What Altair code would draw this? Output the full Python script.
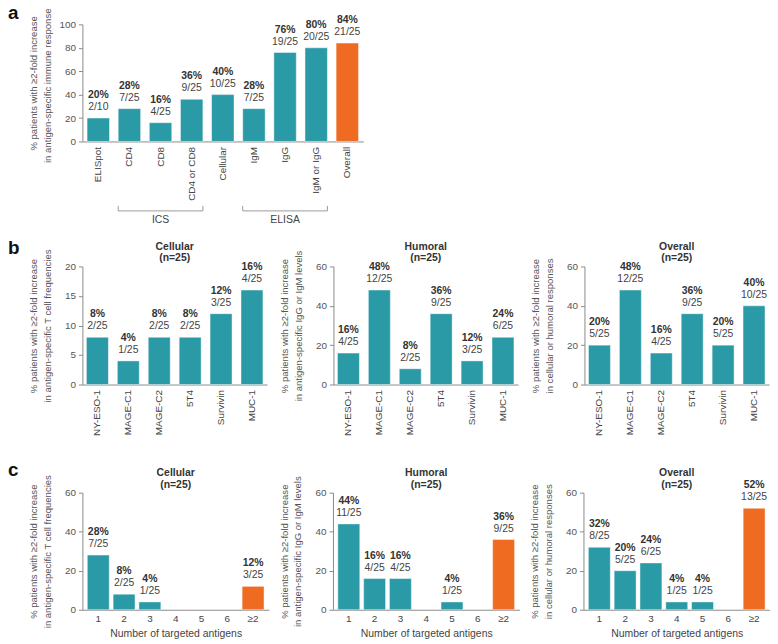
import altair as alt
import pandas as pd

FONT = "Liberation Sans"
TEAL = "#2a9aa6"
ORANGE = "#ef6b22"
TXT = "#333333"
LAB = "#444444"
GREY = "#555555"
AXC = "#8a8a8a"

# ---- panel a ----
a_cats = ["ELISpot", "CD4", "CD8", "CD4 or CD8", "Cellular", "IgM", "IgG", "IgM or IgG", "Overall"]
a_vals = [20, 28, 16, 36, 40, 28, 76, 80, 84]
a_fracs = ["2/10", "7/25", "4/25", "9/25", "10/25", "7/25", "19/25", "20/25", "21/25"]

bracket_start = ["CD4", "IgM"]
bracket_end = ["CD4 or CD8", "IgM or IgG"]
bracket_mid = ["CD8", "IgG"]
bracket_label = ["ICS", "ELISA"]

# ---- panel b ----
antigens = ["NY-ESO-1", "MAGE-C1", "MAGE-C2", "5T4", "Survivin", "MUC-1"]
b_cell_vals = [8, 4, 8, 8, 12, 16]
b_cell_fracs = ["2/25", "1/25", "2/25", "2/25", "3/25", "4/25"]
b_hum_vals = [16, 48, 8, 36, 12, 24]
b_hum_fracs = ["4/25", "12/25", "2/25", "9/25", "3/25", "6/25"]
b_all_vals = [20, 48, 16, 36, 20, 40]
b_all_fracs = ["5/25", "12/25", "4/25", "9/25", "5/25", "10/25"]

# ---- panel c ----
n_targets = ["1", "2", "3", "4", "5", "6", "≥2"]
c_cell_vals = [28, 8, 4, 0, 0, 0, 12]
c_cell_fracs = ["7/25", "2/25", "1/25", "", "", "", "3/25"]
c_hum_vals = [44, 16, 16, 0, 4, 0, 36]
c_hum_fracs = ["11/25", "4/25", "4/25", "", "1/25", "", "9/25"]
c_all_vals = [32, 20, 24, 4, 4, 0, 52]
c_all_fracs = ["8/25", "5/25", "6/25", "1/25", "1/25", "", "13/25"]

YT1 = "% patients with \u22652-fold increase"
yt_a = [YT1, "in antigen-specific immune responses"]
yt_cell = [YT1, "in antigen-specific T cell frequencies"]
yt_hum = [YT1, "in antigen-specific IgG or IgM levels"]
yt_all = [YT1, "in cellular or humoral responses"]

t_cell = "Cellular\n(n=25)"
t_hum = "Humoral\n(n=25)"
t_all = "Overall\n(n=25)"


def make_df(cats, vals, fracs, hl_last):
    rows = []
    for i, (c, v, f) in enumerate(zip(cats, vals, fracs)):
        rows.append({
            "cat": c, "v": v, "frac": f,
            "pct": f"{v}%" if v > 0 else "",
            "hl": "hl" if (hl_last and i == len(cats) - 1) else "base",
        })
    return pd.DataFrame(rows)


def xenc(field, cats, pi, po, angle, xtitle, lpad, band=None):
    axis = alt.Axis(labelAngle=angle, ticks=False, tickSize=0, labelPadding=lpad,
                    domainColor=AXC, labelColor=LAB, labelFontSize=10, labelFont=FONT,
                    titleFont=FONT, titleFontSize=10.5, titleFontWeight="normal",
                    titleColor=LAB, titlePadding=5)
    kw = dict(scale=alt.Scale(domain=cats, paddingInner=pi, paddingOuter=po),
              axis=axis, title=xtitle)
    if band is not None:
        kw["bandPosition"] = band
    return alt.X(f"{field}:N", **kw)


def yenc(ymax, step, ytitle):
    return alt.Y("v:Q", scale=alt.Scale(domain=[0, ymax], nice=False),
                 axis=alt.Axis(values=list(range(0, ymax + 1, step)), title=ytitle,
                               titleX=-44, titleFont=FONT, titleFontSize=9.6,
                               titleFontWeight="normal", titleColor=GREY,
                               titleLineHeight=13.5, grid=False, tickSize=4,
                               tickColor=AXC, domainColor=AXC, labelColor=GREY,
                               labelFontSize=10, labelFont=FONT, labelPadding=3))


def panel(cats, vals, fracs, ymax, step, width, height, ytitle, pi, po, angle,
          lpad, hl_last, xtitle=None, title=None, letter=None, letter_y=0,
          extra=None):
    df = make_df(cats, vals, fracs, hl_last)
    X = xenc("cat", cats, pi, po, angle, xtitle, lpad)
    Y = yenc(ymax, step, ytitle)
    bars = alt.Chart(df).transform_filter("datum.v > 0").mark_bar(
        stroke="white", strokeWidth=0.8, strokeOpacity=0.55).encode(
        x=X, y=Y,
        color=alt.Color("hl:N", scale=alt.Scale(domain=["base", "hl"], range=[TEAL, ORANGE]),
                        legend=None))
    pct = alt.Chart(df).transform_filter("datum.v > 0").mark_text(
        font=FONT, fontSize=10.5, fontWeight="bold", color=TXT, baseline="middle", dy=-23
    ).encode(x=X, y=Y, text="pct:N")
    frac = alt.Chart(df).transform_filter("datum.v > 0").mark_text(
        font=FONT, fontSize=10.5, color=LAB, baseline="middle", dy=-11
    ).encode(x=X, y=Y, text="frac:N")
    layers = [bars, pct, frac]
    if title:
        tt = alt.Chart(pd.DataFrame({"t": [title]})).mark_text(
            font=FONT, fontSize=10.5, fontWeight="bold", color=TXT, baseline="middle",
            align="center", lineBreak="\n", lineHeight=11.5
        ).encode(x=alt.value(width / 2), y=alt.value(-19.5), text="t:N")
        layers.append(tt)
    if letter:
        lt = alt.Chart(pd.DataFrame({"t": [letter]})).mark_text(
            font=FONT, fontSize=19, fontWeight="bold", align="left",
            baseline="alphabetic", color="#111111"
        ).encode(x=alt.value(-75), y=alt.value(letter_y), text="t:N")
        layers.append(lt)
    if extra:
        layers.extend(extra)
    return alt.layer(*layers).properties(width=width, height=height)


# brackets for panel a
br_df = pd.DataFrame({"cat": bracket_start, "cat_end": bracket_end,
                      "mid": bracket_mid, "label": bracket_label})
A_PI, A_PO = 0.28, 0.15
BR_Y = 188
hline = alt.Chart(br_df).mark_rule(color="#9a9a9a", strokeWidth=1).encode(
    x=xenc("cat", a_cats, A_PI, A_PO, -90, None, 5, band=0),
    x2=alt.X2("cat_end:N", bandPosition=1),
    y=alt.value(BR_Y))
ltick = alt.Chart(br_df).mark_rule(color="#9a9a9a", strokeWidth=1).encode(
    x=xenc("cat", a_cats, A_PI, A_PO, -90, None, 5, band=0),
    y=alt.value(BR_Y - 5), y2=alt.value(BR_Y))
rtick = alt.Chart(br_df).mark_rule(color="#9a9a9a", strokeWidth=1).encode(
    x=xenc("cat_end", a_cats, A_PI, A_PO, -90, None, 5, band=1),
    y=alt.value(BR_Y - 5), y2=alt.value(BR_Y))
brtext = alt.Chart(br_df).mark_text(font=FONT, fontSize=10.5, color=LAB, baseline="middle").encode(
    x=xenc("mid", a_cats, A_PI, A_PO, -90, None, 5, band=0.5),
    y=alt.value(BR_Y + 9), text="label:N")

pa = panel(a_cats, a_vals, a_fracs, 100, 20, 283, 118, yt_a, A_PI, A_PO, -90, 5, True,
           letter="a", letter_y=-5, extra=[hline, ltick, rtick, brtext])

BW, BH = 186, 119
b1 = panel(antigens, b_cell_vals, b_cell_fracs, 20, 5, BW, BH, yt_cell, 0.29, 0.13, -90, 5,
           False, title=t_cell, letter="b", letter_y=-13)
b2 = panel(antigens, b_hum_vals, b_hum_fracs, 60, 20, BW, BH, yt_hum, 0.29, 0.13, -90, 5,
           False, title=t_hum)
b3 = panel(antigens, b_all_vals, b_all_fracs, 60, 20, BW, BH, yt_all, 0.29, 0.13, -90, 5,
           False, title=t_all)

CW, CH = 188, 118
XT = "Number of targeted antigens"
c1 = panel(n_targets, c_cell_vals, c_cell_fracs, 60, 20, CW, CH, yt_cell, 0.15, 0.19, 0, 4,
           True, xtitle=XT, title=t_cell, letter="c", letter_y=-17)
c2 = panel(n_targets, c_hum_vals, c_hum_fracs, 60, 20, CW, CH, yt_hum, 0.15, 0.19, 0, 4,
           True, xtitle=XT, title=t_hum)
c3 = panel(n_targets, c_all_vals, c_all_fracs, 60, 20, CW, CH, yt_all, 0.15, 0.19, 0, 4,
           True, xtitle=XT, title=t_all)

row_b = alt.hconcat(b1, b2, b3, spacing=67, bounds="flush")
row_c = alt.hconcat(c1, c2, c3, spacing=64.5, bounds="flush")
bottom = alt.vconcat(row_b, row_c, spacing=25)

chart = alt.vconcat(pa, bottom, spacing=13).properties(
    padding={"left": 0, "right": 0, "top": -8, "bottom": 0}
).configure_view(strokeWidth=0).configure_axis(labelFont=FONT, titleFont=FONT)

chart.save("out.html", embed_options={"renderer": "svg", "actions": False})
